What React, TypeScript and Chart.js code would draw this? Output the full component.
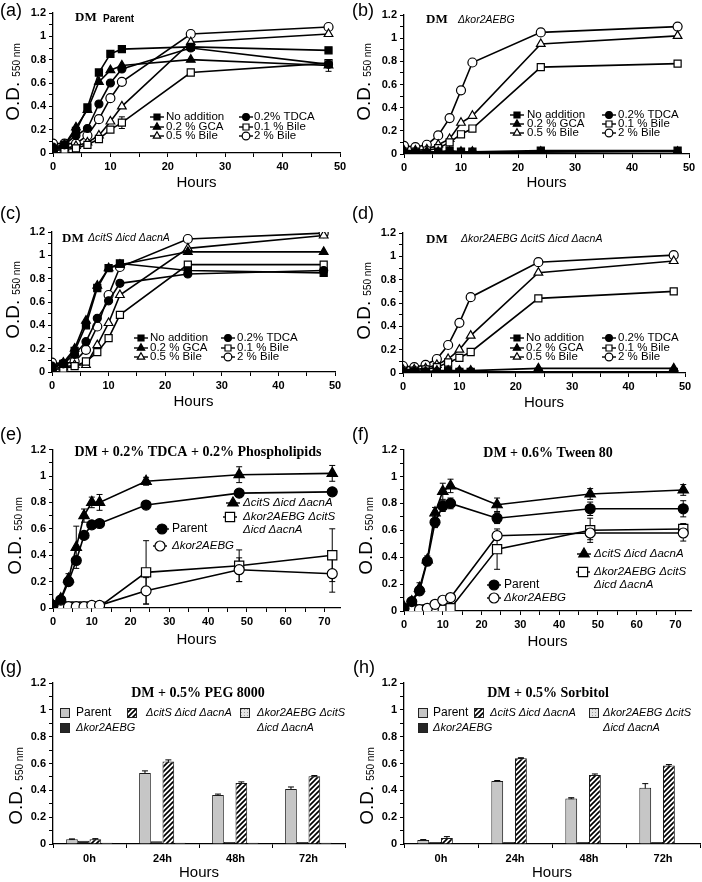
import React, { useEffect, useRef } from 'react';
import { Chart, registerables } from 'chart.js';

Chart.register(...registerables);

// ---------------- data ----------------
const HOURS_48 = [0, 2, 4, 6, 8, 10, 12, 24, 48];
const HOURS_72 = [0, 2, 4, 6, 8, 10, 12, 24, 48, 72];
const BAR_CATEGORIES = ['0h', '24h', '48h', '72h'];
const BILE_LABELS = ['No addition', '0.2% TDCA', '0.2 % GCA', '0.1 % Bile', '0.5 % Bile', '2 % Bile'];
const STRAIN_LABELS = ['Parent', 'Δkor2AEBG', 'ΔcitS Δicd ΔacnA', 'Δkor2AEBG ΔcitS Δicd ΔacnA'];
const X_TITLE = 'Hours';
const Y_TITLE_MAIN = 'O.D.';
const Y_TITLE_SUB = '550 nm';

// (a) DM Parent
const A_NO_ADD = [0.02, 0.07, 0.19, 0.39, 0.69, 0.85, 0.89, 0.91, 0.88];
const A_TDCA = [0.05, 0.07, 0.15, 0.21, 0.42, 0.6, 0.72, 0.9, 0.76];
const A_GCA = [0.03, 0.07, 0.22, 0.37, 0.61, 0.71, 0.75, 0.8, 0.75];
const A_BILE01 = [0.02, 0.03, 0.04, 0.07, 0.12, 0.2, 0.26, 0.69, 0.77];
const A_BILE05 = [0.03, 0.04, 0.06, 0.09, 0.15, 0.27, 0.4, 0.95, 1.02];
const A_BILE2 = [0.08, 0.08, 0.08, 0.15, 0.29, 0.47, 0.61, 1.02, 1.08];
const A_GCA_ERR = [0, 0, 0, 0, 0, 0, 0, 0, 0.05];
const A_BILE01_ERR = [0, 0, 0, 0, 0, 0, 0.05, 0, 0];

// (b) DM Δkor2AEBG
const B_NO_ADD = [0.01, 0.01, 0.01, 0.02, 0.03, 0.02, 0.02, 0.03, 0.03];
const B_TDCA = [0.01, 0.01, 0.01, 0.01, 0.01, 0.01, 0.01, 0.01, 0.0];
const B_GCA = [0.02, 0.02, 0.02, 0.02, 0.02, 0.02, 0.02, 0.02, 0.02];
const B_BILE01 = [0.02, 0.02, 0.03, 0.05, 0.1, 0.17, 0.22, 0.75, 0.78];
const B_BILE05 = [0.03, 0.03, 0.04, 0.08, 0.13, 0.27, 0.33, 0.95, 1.02];
const B_BILE2 = [0.07, 0.06, 0.08, 0.16, 0.31, 0.55, 0.79, 1.05, 1.1];

// (c) DM ΔcitS Δicd ΔacnA
const C_NO_ADD = [0.03, 0.07, 0.18, 0.4, 0.72, 0.89, 0.93, 0.87, 0.85];
const C_TDCA = [0.05, 0.07, 0.15, 0.26, 0.46, 0.61, 0.76, 0.84, 0.87];
const C_GCA = [0.04, 0.08, 0.2, 0.44, 0.74, 0.89, 0.92, 1.03, 1.03];
const C_BILE01 = [0.02, 0.03, 0.05, 0.09, 0.17, 0.29, 0.49, 0.92, 0.92];
const C_BILE05 = [0.03, 0.04, 0.06, 0.06, 0.23, 0.42, 0.66, 1.06, 1.17];
const C_BILE2 = [0.08, 0.07, 0.09, 0.19, 0.39, 0.66, 0.9, 1.14, 1.19];

// (d) DM Δkor2AEBG ΔcitS Δicd ΔacnA
const D_NO_ADD = [0.01, 0.01, 0.01, 0.01, 0.02, 0.01, 0.01, 0.01, 0.01];
const D_TDCA = [0.01, 0.01, 0.01, 0.01, 0.01, 0.01, 0.01, 0.01, 0.01];
const D_GCA = [0.01, 0.01, 0.01, 0.02, 0.02, 0.02, 0.02, 0.04, 0.04];
const D_BILE01 = [0.02, 0.02, 0.03, 0.05, 0.09, 0.13, 0.18, 0.64, 0.7];
const D_BILE05 = [0.03, 0.03, 0.04, 0.07, 0.12, 0.2, 0.32, 0.86, 0.96];
const D_BILE2 = [0.06, 0.05, 0.07, 0.12, 0.24, 0.43, 0.65, 0.95, 1.01];

// (e) DM + 0.2% TDCA + 0.2% Phospholipids
const E_PARENT = [0.02, 0.06, 0.2, 0.36, 0.55, 0.63, 0.64, 0.78, 0.87, 0.88];
const E_KOR = [0.01, 0.01, 0.01, 0.01, 0.01, 0.02, 0.02, 0.13, 0.29, 0.26];
const E_CITS = [0.02, 0.07, 0.22, 0.46, 0.7, 0.8, 0.8, 0.96, 1.01, 1.02];
const E_KORCITS = [0.01, 0.01, 0.01, 0.01, 0.01, 0.01, 0.01, 0.27, 0.32, 0.4];
const E_PARENT_ERR = [0, 0, 0.02, 0.02, 0.02, 0.01, 0.01, 0.01, 0.01, 0.01];
const E_KOR_ERR = [0, 0, 0, 0, 0, 0, 0, 0.1, 0.09, 0.14];
const E_CITS_ERR = [0, 0.02, 0.04, 0.16, 0.05, 0.04, 0.06, 0.03, 0.06, 0.06];
const E_KORCITS_ERR = [0, 0, 0, 0, 0, 0, 0, 0.24, 0.12, 0.2];

// (f) DM + 0.6% Tween 80
const F_PARENT = [0.02, 0.07, 0.15, 0.37, 0.66, 0.78, 0.8, 0.69, 0.76, 0.76];
const F_KOR = [0.01, 0.01, 0.01, 0.02, 0.05, 0.08, 0.1, 0.56, 0.58, 0.58];
const F_CITS = [0.03, 0.07, 0.17, 0.38, 0.73, 0.89, 0.93, 0.79, 0.87, 0.9];
const F_KORCITS = [0.01, 0.01, 0.01, 0.01, 0.01, 0.01, 0.02, 0.46, 0.6, 0.61];
const F_PARENT_ERR = [0, 0, 0.03, 0.03, 0.04, 0.04, 0.04, 0.04, 0.05, 0.06];
const F_KOR_ERR = [0, 0, 0, 0, 0, 0, 0, 0.03, 0.05, 0.06];
const F_CITS_ERR = [0, 0, 0.04, 0.03, 0.04, 0.06, 0.05, 0.05, 0.04, 0.04];
const F_KORCITS_ERR = [0, 0, 0, 0, 0, 0, 0, 0.15, 0.09, 0.04];

// (g) DM + 0.5% PEG 8000
const G_PARENT = [0.035, 0.53, 0.365, 0.41];
const G_KOR = [0.025, 0.02, 0.015, 0.015];
const G_CITS = [0.035, 0.615, 0.455, 0.505];
const G_KORCITS = [0.01, 0.01, 0.01, 0.01];
const G_PARENT_ERR = [0.003, 0.015, 0.007, 0.015];
const G_CITS_ERR = [0.005, 0.012, 0.008, 0.005];

// (h) DM + 0.5% Sorbitol
const H_PARENT = [0.03, 0.47, 0.34, 0.42];
const H_KOR = [0.015, 0.015, 0.015, 0.015];
const H_CITS = [0.045, 0.64, 0.515, 0.585];
const H_KORCITS = [0.005, 0.005, 0.005, 0.005];
const H_PARENT_ERR = [0.003, 0.003, 0.005, 0.03];
const H_CITS_ERR = [0.01, 0.003, 0.007, 0.007];

const PANEL_LABELS = ['(a)', '(b)', '(c)', '(d)', '(e)', '(f)', '(g)', '(h)'];
const TITLE_E = 'DM + 0.2% TDCA + 0.2% Phospholipids';
const TITLE_F = 'DM + 0.6% Tween 80';
const TITLE_G = 'DM + 0.5% PEG 8000';
const TITLE_H = 'DM + 0.5% Sorbitol';

// ---------------- styles ----------------
const SANS = '"Liberation Sans", Arial, sans-serif';
const SERIF = '"Liberation Serif", "Times New Roman", serif';
const TICK_FONT = { family: SANS, size: 11, weight: 'bold' as const };

type Marker = { style: 'circle' | 'rect' | 'triangle'; filled: boolean; r: number };
const BILE_MARKERS: Marker[] = [
  { style: 'rect', filled: true, r: 5 },
  { style: 'circle', filled: true, r: 4 },
  { style: 'triangle', filled: true, r: 5 },
  { style: 'rect', filled: false, r: 5 },
  { style: 'triangle', filled: false, r: 5 },
  { style: 'circle', filled: false, r: 4.5 },
];
const STRAIN_MARKERS: Marker[] = [
  { style: 'circle', filled: true, r: 5 },
  { style: 'circle', filled: false, r: 5 },
  { style: 'triangle', filled: true, r: 6 },
  { style: 'rect', filled: false, r: 6.5 },
];

type Geo = { W: number; H: number; L: number; R: number; T: number; B: number };
type TextItem = { text: string; x: number; y: number; font: string; align?: CanvasTextAlign };
type LegendItem = {
  kind: 'line' | 'box';
  x: number;
  y: number;
  tx: number;
  lines: string[];
  font: string;
  gap?: number;
  marker?: Marker;
  fill?: any;
};
type Decor = { yTitle: { x: number; y: number }; texts: TextItem[]; legend: LegendItem[] };

function drawMarker(ctx: CanvasRenderingContext2D, m: Marker, x: number, y: number, r: number) {
  ctx.save();
  ctx.beginPath();
  if (m.style === 'circle') ctx.arc(x, y, r, 0, Math.PI * 2);
  else if (m.style === 'rect') {
    const s = r * Math.SQRT1_2;
    ctx.rect(x - s, y - s, 2 * s, 2 * s);
  } else {
    for (let k = 0; k < 3; k++) {
      const a = (k * 2 * Math.PI) / 3;
      const px = x + Math.sin(a) * r;
      const py = y - Math.cos(a) * r;
      if (k === 0) ctx.moveTo(px, py);
      else ctx.lineTo(px, py);
    }
    ctx.closePath();
  }
  ctx.fillStyle = m.filled ? '#000' : '#fff';
  ctx.fill();
  ctx.lineWidth = 1.2;
  ctx.strokeStyle = '#000';
  ctx.stroke();
  ctx.restore();
}

const errorBarPlugin = {
  id: 'errBars',
  beforeDatasetsDraw(chart: any) {
    const ctx = chart.ctx;
    const ys = chart.scales.y;
    ctx.save();
    ctx.strokeStyle = '#000';
    ctx.lineWidth = 1;
    chart.data.datasets.forEach((ds: any, di: number) => {
      const errs = ds.errorBars as number[] | undefined;
      if (!errs) return;
      const meta = chart.getDatasetMeta(di);
      meta.data.forEach((el: any, i: number) => {
        const e = errs[i];
        if (!e) return;
        const d = ds.data[i];
        const v = typeof d === 'number' ? d : d.y;
        const x = el.x;
        const y1 = ys.getPixelForValue(v + e);
        const y2 = ys.getPixelForValue(Math.max(0, v - e));
        ctx.beginPath();
        ctx.moveTo(x, y1);
        ctx.lineTo(x, y2);
        ctx.moveTo(x - 3, y1);
        ctx.lineTo(x + 3, y1);
        ctx.moveTo(x - 3, y2);
        ctx.lineTo(x + 3, y2);
        ctx.stroke();
      });
    });
    ctx.restore();
  },
};

function decorPlugin(d: Decor) {
  return {
    id: 'decor',
    afterDraw(chart: any) {
      const ctx: CanvasRenderingContext2D = chart.ctx;
      // y axis title with subscript
      ctx.save();
      ctx.fillStyle = '#000';
      ctx.translate(d.yTitle.x, d.yTitle.y);
      ctx.rotate(-Math.PI / 2);
      const mainFont = `19px ${SANS}`;
      const subFont = `10px ${SANS}`;
      ctx.font = mainFont;
      const w1 = ctx.measureText(Y_TITLE_MAIN).width;
      ctx.font = subFont;
      const w2 = ctx.measureText(Y_TITLE_SUB).width;
      const gap = 5;
      const start = -(w1 + gap + w2) / 2;
      ctx.textAlign = 'left';
      ctx.textBaseline = 'alphabetic';
      ctx.font = mainFont;
      ctx.fillText(Y_TITLE_MAIN, start, 0);
      ctx.font = subFont;
      ctx.fillText(Y_TITLE_SUB, start + w1 + gap, 1);
      ctx.restore();

      // texts
      ctx.save();
      ctx.fillStyle = '#000';
      ctx.textBaseline = 'middle';
      for (const t of d.texts) {
        ctx.font = t.font;
        ctx.textAlign = t.align || 'left';
        ctx.fillText(t.text, t.x, t.y);
      }
      ctx.restore();

      // legend
      ctx.save();
      for (const it of d.legend) {
        if (it.kind === 'line' && it.marker) {
          ctx.strokeStyle = '#000';
          ctx.lineWidth = 1.4;
          ctx.beginPath();
          ctx.moveTo(it.x - 7, it.y);
          ctx.lineTo(it.x + 7, it.y);
          ctx.stroke();
          drawMarker(ctx, it.marker, it.x, it.y, it.marker.r);
        } else {
          ctx.fillStyle = it.fill;
          ctx.fillRect(it.x - 5, it.y - 5, 10, 10);
          ctx.strokeStyle = '#222';
          ctx.lineWidth = 1;
          ctx.strokeRect(it.x - 4.5, it.y - 4.5, 9, 9);
        }
        ctx.fillStyle = '#000';
        ctx.font = it.font;
        ctx.textAlign = 'left';
        ctx.textBaseline = 'middle';
        it.lines.forEach((ln, k) => ctx.fillText(ln, it.tx, it.y + k * (it.gap || 13)));
      }
      ctx.restore();
    },
  };
}

function yScale(geo: Geo) {
  return {
    min: 0,
    max: 1.2,
    ticks: {
      stepSize: 0.1,
      autoSkip: false,
      color: '#000',
      font: TICK_FONT,
      padding: 3,
      callback: (v: any) => (Math.round(v * 10) % 2 === 0 ? String(Math.round(v * 10) / 10) : ''),
    },
    grid: { drawOnChartArea: false, color: '#000', tickLength: 4, lineWidth: 1 },
    border: { color: '#000', width: 1.3 },
    afterFit: (s: any) => {
      s.width = geo.L;
    },
  };
}

function xTitle(pad: number) {
  return {
    display: true,
    text: X_TITLE,
    color: '#000',
    font: { family: SANS, size: 15 },
    padding: { top: 0, bottom: pad },
  };
}

function xLinear(geo: Geo, max: number, pad: number) {
  return {
    type: 'linear',
    min: 0,
    max,
    ticks: {
      stepSize: 5,
      includeBounds: false,
      autoSkip: false,
      maxRotation: 0,
      color: '#000',
      font: TICK_FONT,
      padding: 3,
      callback: (v: any) => (Math.round(v) % 10 === 0 ? String(v) : ''),
    },
    grid: { drawOnChartArea: false, color: '#000', tickLength: 4, lineWidth: 1 },
    border: { color: '#000', width: 1.3 },
    title: xTitle(pad),
    afterFit: (s: any) => {
      s.height = geo.H - geo.B;
    },
  };
}

function lineDataset(label: string, xs: number[], ys: number[], m: Marker, errs?: number[]) {
  return {
    label,
    data: xs.map((x, i) => ({ x, y: ys[i] })),
    borderColor: '#000',
    borderWidth: 1.6,
    pointStyle: m.style,
    pointRadius: m.r,
    pointBackgroundColor: m.filled ? '#000' : '#fff',
    pointBorderColor: '#000',
    pointBorderWidth: 1.2,
    fill: false,
    tension: 0,
    errorBars: errs,
  };
}

function lineConfig(geo: Geo, xMax: number, pad: number, datasets: any[], decor: Decor): any {
  return {
    type: 'line',
    data: { datasets },
    options: {
      responsive: false,
      animation: false,
      events: [],
      layout: { padding: { left: 0, top: geo.T, right: geo.W - geo.R, bottom: 0 } },
      plugins: { legend: { display: false }, tooltip: { enabled: false } },
      scales: { x: xLinear(geo, xMax, pad), y: yScale(geo) },
    },
    plugins: [errorBarPlugin, decorPlugin(decor)],
  };
}

type LegGeo = { rows: number[]; c1: [number, number]; c2: [number, number] };

function bileConfig(
  geo: Geo,
  series: number[][],
  errs: (number[] | undefined)[],
  texts: TextItem[],
  leg: LegGeo,
  yTitle: { x: number; y: number },
  pad: number
) {
  const datasets = BILE_LABELS.map((lab, i) => lineDataset(lab, HOURS_48, series[i], BILE_MARKERS[i], errs[i]));
  const legend: LegendItem[] = BILE_LABELS.map((lab, i) => {
    const col = i % 2 === 0 ? leg.c1 : leg.c2;
    return {
      kind: 'line',
      x: col[0],
      y: leg.rows[Math.floor(i / 2)],
      tx: col[1],
      lines: [lab],
      font: `11.5px ${SANS}`,
      marker: { ...BILE_MARKERS[i], r: BILE_MARKERS[i].r * 0.85 },
    };
  });
  return lineConfig(geo, 50, pad, datasets, { yTitle, texts, legend });
}

// the long strain name is set on two lines in the legends
function splitStrain(label: string) {
  const w = label.split(' ');
  return w.length > 3 ? [w.slice(0, 2).join(' '), w.slice(2).join(' ')] : [label];
}

type StrainLeg = { pos: [number, number, number][] }; // [markerX, y, textX]

function strainLineConfig(
  geo: Geo,
  series: number[][],
  errs: number[][],
  title: TextItem,
  leg: StrainLeg,
  yTitle: { x: number; y: number },
  pad: number
) {
  const datasets = STRAIN_LABELS.map((lab, i) => lineDataset(lab, HOURS_72, series[i], STRAIN_MARKERS[i], errs[i]));
  const legend: LegendItem[] = STRAIN_LABELS.map((lab, i) => ({
    kind: 'line',
    x: leg.pos[i][0],
    y: leg.pos[i][1],
    tx: leg.pos[i][2],
    lines: splitStrain(lab),
    font: i === 0 ? `12px ${SANS}` : `italic 11.5px ${SANS}`,
    gap: 13,
    marker: STRAIN_MARKERS[i],
  }));
  return lineConfig(geo, 74, pad, datasets, { yTitle, texts: [title], legend });
}

function makePatterns() {
  const h = document.createElement('canvas');
  h.width = 5;
  h.height = 5;
  const hx = h.getContext('2d')!;
  hx.fillStyle = '#fff';
  hx.fillRect(0, 0, 5, 5);
  hx.strokeStyle = '#000';
  hx.lineWidth = 1.7;
  hx.beginPath();
  hx.moveTo(0, 5);
  hx.lineTo(5, 0);
  hx.moveTo(-1, 1);
  hx.lineTo(1, -1);
  hx.moveTo(4, 6);
  hx.lineTo(6, 4);
  hx.stroke();
  const d = document.createElement('canvas');
  d.width = 3;
  d.height = 3;
  const dx = d.getContext('2d')!;
  dx.fillStyle = '#e4e4e4';
  dx.fillRect(0, 0, 3, 3);
  dx.fillStyle = '#999';
  dx.fillRect(1, 1, 1, 1);
  const ctx = document.createElement('canvas').getContext('2d')!;
  return { hatch: ctx.createPattern(h, 'repeat'), dots: ctx.createPattern(d, 'repeat') };
}

function barConfig(
  geo: Geo,
  series: number[][],
  errs: (number[] | undefined)[],
  title: TextItem,
  leg: [number, number, number][],
  yTitle: { x: number; y: number }
): any {
  const p = makePatterns();
  const fills = ['#c6c6c6', '#262626', p.hatch, p.dots];
  const datasets = STRAIN_LABELS.map((lab, i) => ({
    label: lab,
    data: series[i],
    backgroundColor: fills[i],
    borderColor: '#1a1a1a',
    borderWidth: 1,
    categoryPercentage: 0.64,
    barPercentage: 1,
    errorBars: errs[i],
  }));
  const legend: LegendItem[] = STRAIN_LABELS.map((lab, i) => ({
    kind: 'box',
    x: leg[i][0],
    y: leg[i][1],
    tx: leg[i][2],
    lines: splitStrain(lab),
    font: i === 0 ? `12px ${SANS}` : `italic 11px ${SANS}`,
    gap: 15,
    fill: fills[i],
  }));
  return {
    type: 'bar',
    data: { labels: BAR_CATEGORIES, datasets },
    options: {
      responsive: false,
      animation: false,
      events: [],
      layout: { padding: { left: 0, top: geo.T, right: geo.W - geo.R, bottom: 0 } },
      plugins: { legend: { display: false }, tooltip: { enabled: false } },
      scales: {
        x: {
          type: 'category',
          offset: true,
          grid: { offset: true, drawOnChartArea: false, color: '#000', tickLength: 4 },
          border: { color: '#000', width: 1.3 },
          ticks: { color: '#000', font: TICK_FONT, padding: 4, maxRotation: 0 },
          title: xTitle(0),
          afterFit: (s: any) => {
            s.height = geo.H - geo.B;
          },
        },
        y: yScale(geo),
      },
    },
    plugins: [errorBarPlugin, decorPlugin({ yTitle, texts: [title], legend })],
  };
}

// ---------------- components ----------------
function ChartBox({ left, top, width, height, make }: { left: number; top: number; width: number; height: number; make: () => any }) {
  const ref = useRef<HTMLCanvasElement>(null);
  useEffect(() => {
    const chart = new Chart(ref.current as HTMLCanvasElement, make());
    return () => chart.destroy();
  }, []);
  return (
    <canvas
      ref={ref}
      width={width}
      height={height}
      style={{ position: 'absolute', left, top, width, height }}
    />
  );
}

const DM_FONT = `bold 13px ${SERIF}`;
const SUB_BOLD = `bold 10px ${SANS}`;
const SUB_IT = `italic 10.5px ${SANS}`;
const TITLE_FONT = `bold 14px ${SERIF}`;

const LABEL_POS: [number, number][] = [
  [0, 0],
  [352, 0],
  [0, 203],
  [352, 203],
  [0, 424],
  [352, 424],
  [0, 657],
  [353, 657],
];

export default function App() {
  const mkA = () =>
    bileConfig(
      { W: 351, H: 220, L: 53, R: 340, T: 13, B: 153 },
      [A_NO_ADD, A_TDCA, A_GCA, A_BILE01, A_BILE05, A_BILE2],
      [undefined, undefined, A_GCA_ERR, A_BILE01_ERR, undefined, undefined],
      [
        { text: 'DM', x: 75, y: 18, font: DM_FONT },
        { text: 'Parent', x: 103, y: 19, font: SUB_BOLD },
      ],
      { rows: [117, 127, 136], c1: [157, 166], c2: [246, 254] },
      { x: 19, y: 82 },
      28
    );
  const mkB = () =>
    bileConfig(
      { W: 351, H: 220, L: 53, R: 338, T: 15, B: 154 },
      [B_NO_ADD, B_TDCA, B_GCA, B_BILE01, B_BILE05, B_BILE2],
      [undefined, undefined, undefined, undefined, undefined, undefined],
      [
        { text: 'DM', x: 75, y: 20, font: DM_FONT },
        { text: STRAIN_LABELS[1], x: 107, y: 20, font: SUB_IT },
      ],
      { rows: [115, 124, 133], c1: [166, 176], c2: [258, 267] },
      { x: 19, y: 82 },
      28
    );
  const mkC = () =>
    bileConfig(
      { W: 351, H: 220, L: 52, R: 335, T: 12, B: 152 },
      [C_NO_ADD, C_TDCA, C_GCA, C_BILE01, C_BILE05, C_BILE2],
      [undefined, undefined, undefined, undefined, undefined, undefined],
      [
        { text: 'DM', x: 62, y: 19, font: DM_FONT },
        { text: STRAIN_LABELS[2], x: 88, y: 18, font: SUB_IT },
      ],
      { rows: [118, 128, 137], c1: [141, 150], c2: [228, 237] },
      { x: 19, y: 80 },
      29
    );
  const mkD = () =>
    bileConfig(
      { W: 351, H: 220, L: 52, R: 334, T: 13, B: 153 },
      [D_NO_ADD, D_TDCA, D_GCA, D_BILE01, D_BILE05, D_BILE2],
      [undefined, undefined, undefined, undefined, undefined, undefined],
      [
        { text: 'DM', x: 75, y: 20, font: DM_FONT },
        { text: STRAIN_LABELS[3], x: 110, y: 19, font: SUB_IT },
      ],
      { rows: [118, 128, 137], c1: [166, 175], c2: [258, 267] },
      { x: 19, y: 81 },
      28
    );
  const mkE = () =>
    strainLineConfig(
      { W: 351, H: 220, L: 53, R: 340, T: 7, B: 168 },
      [E_PARENT, E_KOR, E_CITS, E_KORCITS],
      [E_PARENT_ERR, E_KOR_ERR, E_CITS_ERR, E_KORCITS_ERR],
      { text: TITLE_E, x: 198, y: 12, font: TITLE_FONT, align: 'center' },
      {
        pos: [
          [162, 89, 172],
          [160, 106, 172],
          [233, 63, 243],
          [230, 77, 243],
        ],
      },
      { x: 21, y: 96 },
      11
    );
  const mkF = () =>
    strainLineConfig(
      { W: 351, H: 220, L: 53, R: 340, T: 7, B: 171 },
      [F_PARENT, F_KOR, F_CITS, F_KORCITS],
      [F_PARENT_ERR, F_KOR_ERR, F_CITS_ERR, F_KORCITS_ERR],
      { text: TITLE_F, x: 197, y: 13, font: TITLE_FONT, align: 'center' },
      {
        pos: [
          [143, 145, 153],
          [143, 158, 153],
          [233, 114, 243],
          [232, 132, 243],
        ],
      },
      { x: 21, y: 96 },
      9
    );
  const mkG = () =>
    barConfig(
      { W: 351, H: 222, L: 53, R: 345, T: 23, B: 184 },
      [G_PARENT, G_KOR, G_CITS, G_KORCITS],
      [G_PARENT_ERR, undefined, G_CITS_ERR, undefined],
      { text: TITLE_G, x: 198, y: 33, font: TITLE_FONT, align: 'center' },
      [
        [65, 53, 76],
        [65, 68, 76],
        [132, 53, 146],
        [245, 53, 257],
      ],
      { x: 22, y: 126 }
    );
  const mkH = () =>
    barConfig(
      { W: 351, H: 222, L: 53, R: 349, T: 23, B: 184 },
      [H_PARENT, H_KOR, H_CITS, H_KORCITS],
      [H_PARENT_ERR, undefined, H_CITS_ERR, undefined],
      { text: TITLE_H, x: 197, y: 33, font: TITLE_FONT, align: 'center' },
      [
        [72, 53, 82],
        [72, 68, 82],
        [128, 53, 139],
        [243, 53, 252],
      ],
      { x: 22, y: 126 }
    );

  return (
    <div style={{ position: 'absolute', left: 0, top: 0, width: 702, height: 882, background: '#fff', overflow: 'hidden' }}>
      <ChartBox left={0} top={0} width={351} height={220} make={mkA} />
      <ChartBox left={351} top={0} width={351} height={220} make={mkB} />
      <ChartBox left={0} top={220} width={351} height={220} make={mkC} />
      <ChartBox left={351} top={220} width={351} height={220} make={mkD} />
      <ChartBox left={0} top={440} width={351} height={220} make={mkE} />
      <ChartBox left={351} top={440} width={351} height={220} make={mkF} />
      <ChartBox left={0} top={660} width={351} height={222} make={mkG} />
      <ChartBox left={351} top={660} width={351} height={222} make={mkH} />
      {PANEL_LABELS.map((lab, i) => (
        <div
          key={lab}
          style={{
            position: 'absolute',
            left: LABEL_POS[i][0],
            top: LABEL_POS[i][1],
            font: `18px ${SANS}`,
            color: '#000',
            lineHeight: '20px',
          }}
        >
          {lab}
        </div>
      ))}
    </div>
  );
}
